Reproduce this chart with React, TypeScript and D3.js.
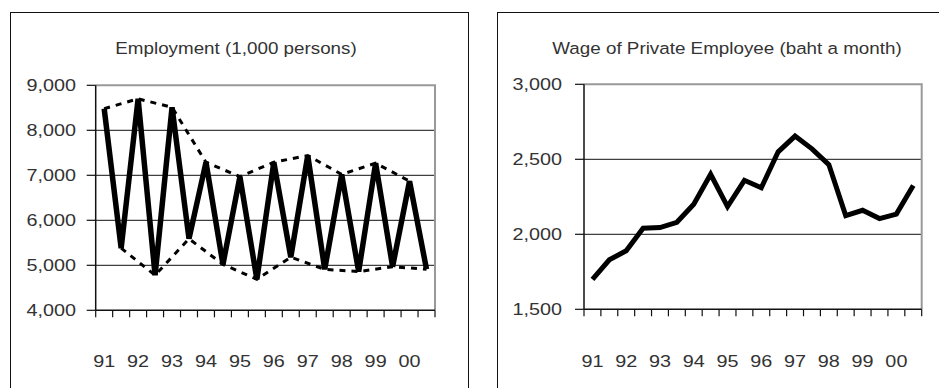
import React from "react";
import * as d3 from "d3";

// ---- Data ----
const periods: string[] = [
  "91a", "91b", "92a", "92b", "93a", "93b", "94a", "94b", "95a", "95b",
  "96a", "96b", "97a", "97b", "98a", "98b", "99a", "99b", "00a", "00b",
];
const yearLabels: string[] = ["91", "92", "93", "94", "95", "96", "97", "98", "99", "00"];

const employment: number[] = [
  8480, 5380, 8700, 4780, 8510, 5590, 7290, 5020, 6970, 4690,
  7290, 5180, 7440, 4910, 7020, 4860, 7270, 4970, 6870, 4910,
];
// dashed envelopes: upper links the high rounds, lower links the low rounds
const employmentUpperIdx: number[] = [0, 2, 4, 6, 8, 10, 12, 14, 16, 18];
const employmentLowerIdx: number[] = [1, 3, 5, 7, 9, 11, 13, 15, 17, 19];

const wage: number[] = [
  1700, 1830, 1890, 2040, 2045, 2080, 2200, 2400, 2185, 2360,
  2310, 2550, 2655, 2570, 2465, 2125, 2160, 2105, 2135, 2325,
];

const employmentTicks: number[] = [4000, 5000, 6000, 7000, 8000, 9000];
const wageTicks: number[] = [1500, 2000, 2500, 3000];

const FONT = "'Liberation Sans', Arial, sans-serif";
const FS = 16.5;
const SX = 1.2;
const TXT = "#333";

type PanelProps = {
  box: { x: number; y: number; w: number; h: number };
  plot: { l: number; r: number; t: number; b: number };
  title: string;
  titleX: number;
  values: number[];
  ticks: number[];
  labelRight: number;
  dashed?: number[][];
  lineWidth: number;
  titleScale: number;
};

function Panel(p: PanelProps) {
  const { plot } = p;
  const x = d3.scaleBand<number>().domain(periods.map((_, i) => i)).range([plot.l, plot.r]).padding(0);
  const y = d3.scaleLinear().domain([p.ticks[0], p.ticks[p.ticks.length - 1]]).range([plot.b, plot.t]);
  const cx = (i: number) => (x(i) as number) + x.bandwidth() / 2;
  const line = d3.line<number>().x((_, i) => cx(i)).y((d) => y(d));
  const lineIdx = d3.line<number>().x((i) => cx(i)).y((i) => y(p.values[i]));
  const fmt = d3.format(",");
  const bounds = d3.range(periods.length + 1).map((k) => plot.l + k * x.bandwidth());

  return (
    <g>
      <rect x={p.box.x} y={p.box.y} width={p.box.w} height={p.box.h} fill="#fff" stroke="#111" strokeWidth={1} />
      <text
        transform={`translate(${p.titleX},54) scale(${p.titleScale},1)`}
        textAnchor="middle"
        fontFamily={FONT}
        fontSize={FS}
        fill={TXT}
      >
        {p.title}
      </text>
      {/* gridlines */}
      {p.ticks.slice(1, -1).map((t) => (
        <line key={t} x1={plot.l} x2={plot.r} y1={y(t)} y2={y(t)} stroke="#111" strokeWidth={1} />
      ))}
      {/* plot border top & right (gray) */}
      <path d={`M${plot.l},${plot.t}H${plot.r}V${plot.b}`} fill="none" stroke="#999" strokeWidth={2} />
      {/* y ticks & labels */}
      {p.ticks.map((t) => (
        <g key={t}>
          <line x1={plot.l - 9} x2={plot.l} y1={y(t)} y2={y(t)} stroke="#111" strokeWidth={1.2} />
          <text
            transform={`translate(${p.labelRight},${y(t) + 6}) scale(${SX},1)`}
            textAnchor="end"
            fontFamily={FONT}
            fontSize={FS}
            fill={TXT}
          >
            {fmt(t)}
          </text>
        </g>
      ))}
      {/* axes */}
      <line x1={plot.l} x2={plot.l} y1={plot.t} y2={plot.b} stroke="#111" strokeWidth={1.5} />
      <line x1={plot.l} x2={plot.r} y1={plot.b} y2={plot.b} stroke="#111" strokeWidth={1.5} />
      {bounds.map((bx, k) => (
        <line key={k} x1={bx} x2={bx} y1={plot.b} y2={plot.b + 7} stroke="#111" strokeWidth={1.2} />
      ))}
      {yearLabels.map((lab, k) => (
        <text
          key={lab}
          transform={`translate(${cx(k * 2)},366.5) scale(${SX},1)`}
          textAnchor="middle"
          fontFamily={FONT}
          fontSize={FS}
          fill={TXT}
        >
          {lab}
        </text>
      ))}
      {/* dashed envelopes */}
      {p.dashed &&
        p.dashed.map((idx, k) => (
          <path
            key={k}
            d={lineIdx(idx) || ""}
            fill="none"
            stroke="#000"
            strokeWidth={3}
            strokeDasharray="6,6"
          />
        ))}
      <path
        d={line(p.values) || ""}
        fill="none"
        stroke="#000"
        strokeWidth={p.lineWidth}
        strokeLinejoin="miter"
        strokeMiterlimit={2.5}
      />
    </g>
  );
}

export default function App() {
  return (
    <svg width={939} height={388} style={{ position: "absolute", left: 0, top: 0, background: "#fff" }}>
      <rect x={0} y={0} width={939} height={388} fill="#fff" />
      <Panel
        box={{ x: 10.5, y: 12.5, w: 458, h: 400 }}
        plot={{ l: 95.7, r: 435, t: 85.3, b: 310.3 }}
        title="Employment (1,000 persons)"
        titleX={236}
        values={employment}
        ticks={employmentTicks}
        labelRight={76}
        dashed={[employmentUpperIdx, employmentLowerIdx]}
        lineWidth={5.5}
        titleScale={1.14}
      />
      <Panel
        box={{ x: 497.5, y: 12.5, w: 460, h: 400 }}
        plot={{ l: 584, r: 921.7, t: 84.3, b: 309.3 }}
        title="Wage of Private Employee (baht a month)"
        titleX={727}
        values={wage}
        ticks={wageTicks}
        labelRight={562}
        lineWidth={5}
        titleScale={1.14}
      />
    </svg>
  );
}
